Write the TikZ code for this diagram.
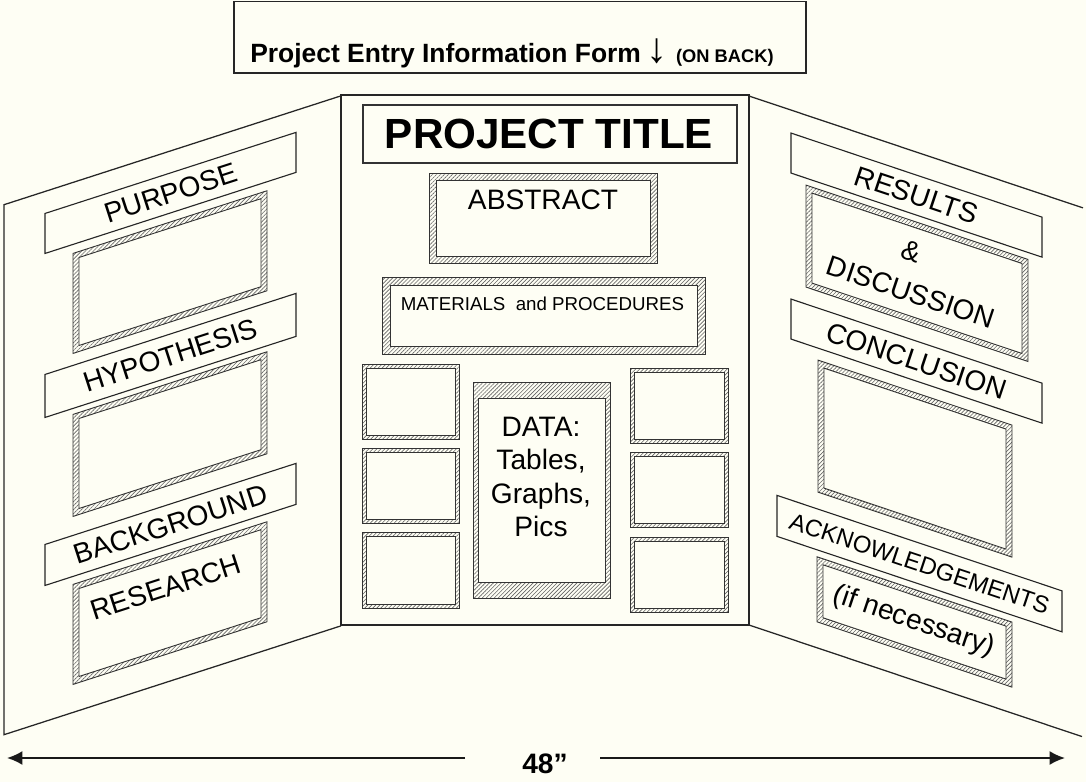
\documentclass[tikz,border=0pt]{standalone}
\usepackage{fontspec}
\setmainfont{Liberation Sans}
\usetikzlibrary{arrows.meta, patterns.meta}

\definecolor{boardbg}{HTML}{FEFEF4}

% mounted frame: hatched band between an outer and an inner rectangle
\newcommand{\hatchframe}[5]{%
  \fill[pattern={Lines[angle=45, distance=2pt, line width=0.45pt]}, pattern color=black!60]
    (#1,#2) rectangle (#3,#4);
  \draw[frameline] (#1,#2) rectangle (#3,#4);
  \draw[frameline, fill=boardbg] ({#1+#5},{#2+#5}) rectangle ({#3-#5},{#4-#5});
}

\begin{document}
\begin{tikzpicture}[
    x=0.025cm, y=-0.025cm,
    panel/.style={draw=black!85, line width=0.9pt},
    strip/.style={draw=black!85, line width=0.8pt, fill=boardbg},
    frameline/.style={draw=black!80, line width=0.65pt},
    tag/.style={font=\fontsize{20}{22}\selectfont, inner sep=0pt},
    dimarrow/.style={-{Latex[length=11pt, width=10pt]}, line width=1.3pt, black!90}
]

\fill[boardbg] (0,0) rectangle (1086,782);
\useasboundingbox (0,0) rectangle (1086,782);

% entry form note above the board
\draw[panel] (234,1.5) rectangle (806,73);
\node[anchor=base west, inner sep=0pt] (form) at (250,63)
  {\fontsize{18.8}{20}\selectfont\bfseries Project Entry Information Form\hspace{4pt}{\fontsize{30}{30}\selectfont\mdseries ↓}\hspace{6pt}{\fontsize{13}{14}\selectfont(ON BACK)}};

% centre panel
\draw[panel] (341,95) rectangle (749,625);
\draw[frameline, line width=0.8pt] (363,105) rectangle (737,163);
\node[inner sep=0pt, font=\fontsize{30}{32}\selectfont\bfseries] (title) at (549,134) {PROJECT TITLE};

\hatchframe{429}{173}{657}{263}{7}
\node[tag] (abstract) at (543,200) {ABSTRACT};

\hatchframe{382}{277}{705}{354}{8}
\node[inner sep=0pt, font=\fontsize{13.3}{15}\selectfont] (materials) at (542.5,303.5) {MATERIALS\ \ and PROCEDURES};

\foreach \t/\b in {364/439, 448/523, 532/608}{
  \hatchframe{362}{\t}{459}{\b}{4}
}
\foreach \t/\b in {368/443, 452/527, 537/612}{
  \hatchframe{630}{\t}{728}{\b}{4}
}

\fill[pattern={Lines[angle=45, distance=2pt, line width=0.45pt]}, pattern color=black!60]
  (473,382) rectangle (610,598);
\draw[frameline] (473,382) rectangle (610,598);
\draw[frameline, fill=boardbg] (478,398) rectangle (605,582);
\node[tag, align=center, font=\fontsize{20}{23.6}\selectfont] (data) at (541,477) {DATA:\\Tables,\\Graphs,\\Pics};

% left wing
\begin{scope}[yslant=0.323]
  \draw[panel] (341,206) -- (4,206) -- (4,736) -- (341,736);
  \hatchframe{73}{277}{267}{377}{6}
  \hatchframe{73}{438}{267}{540}{6}
  \hatchframe{73}{608}{267}{708}{6}
  \draw[strip] (45,228) rectangle (296,268);
  \draw[strip] (45,389) rectangle (296,432);
  \draw[strip] (45,559) rectangle (296,600);
  \node[tag, rotate=17.9] (purpose) at (170.5,248) {PURPOSE};
  \node[tag, rotate=17.9] (hypothesis) at (170.5,410.5) {HYPOTHESIS};
  \node[tag, rotate=17.9] (background) at (170.5,579.5) {BACKGROUND};
  \node[tag, rotate=17.9] (research) at (166,641) {RESEARCH};
\end{scope}

% right wing
\begin{scope}[shift={(749,0)}, yslant=-0.335]
  \draw[panel] (0,96) -- (334,96);
  \draw[panel] (0,625) -- (333,625);
  \hatchframe{57}{166}{279}{268}{6}
  \hatchframe{69}{337}{263}{469}{6}
  \hatchframe{68}{534}{263}{599}{6}
  \draw[strip] (42,119) rectangle (293,159);
  \draw[strip] (42,285) rectangle (293,325);
  \draw[strip] (28,486) rectangle (313,527);
  \node[tag, rotate=-18.5] (results) at (167.5,139) {RESULTS};
  \node[tag, rotate=-18.5] (amp) at (162,197) {\&};
  \node[tag, rotate=-18.5] (discussion) at (162,238) {DISCUSSION};
  \node[tag, rotate=-18.5] (conclusion) at (167.5,305) {CONCLUSION};
  \node[tag, rotate=-18.5, font=\fontsize{17}{19}\selectfont] (ack) at (170.5,506.5) {ACKNOWLEDGEMENTS};
  \node[tag, rotate=-18.5] (ifneeded) at (165,566.5) {(if necessary)};
\end{scope}

% board width
\node[inner sep=0pt, font=\fontsize{20}{22}\selectfont\bfseries] (width) at (545,764) {48”};
\coordinate (wl) at (7,758);
\coordinate (wr) at (1065,758);
\coordinate (gapl) at (465,758);
\coordinate (gapr) at (600,758);
\draw[dimarrow] (gapl) -- (wl);
\draw[dimarrow] (gapr) -- (wr);

\end{tikzpicture}
\end{document}
